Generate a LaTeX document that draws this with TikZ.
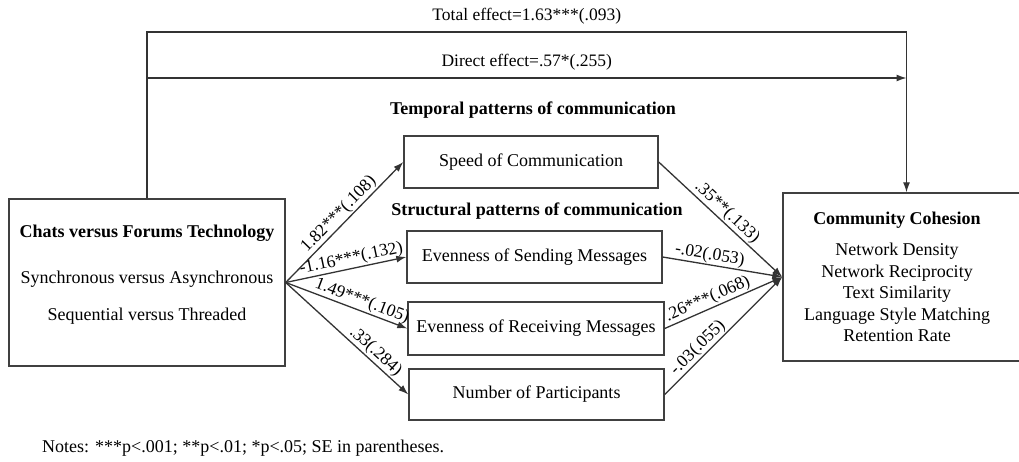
\documentclass[tikz,border=0pt]{standalone}
\usepackage{fontspec}
\setmainfont{Liberation Serif}
\usetikzlibrary{arrows.meta}

\begin{document}
\begin{tikzpicture}[x=1pt,y=-1pt,
        box/.style={draw=black!75,line width=1.4pt,rectangle,inner sep=0pt},
        conn/.style={draw=black!80,line width=1.3pt},
        arr/.style={conn,-{Latex[length=10pt,width=7pt]}},
        lab/.style={font=\fontsize{17.5}{20}\selectfont,sloped,above,inner sep=1pt},
        txt/.style={font=\fontsize{18}{21.5}\selectfont,align=center,inner sep=0pt}]
            \useasboundingbox (0,0) rectangle (1019,461);

            \node[box,minimum width=276pt,minimum height=167pt] (tech) at (147,282.5) {};
            \node[txt] (techtext) at (147,275) {\textbf{Chats versus Forums Technology}\\[24pt]
                Synchronous versus Asynchronous\\[16pt] Sequential versus Threaded};

            \node[box,minimum width=247pt,minimum height=168pt] (cohesion) at (906.5,277) {};
            \node[txt] (cohtext) at (897,277) {\textbf{Community Cohesion}\\[10pt]
                Network Density\\ Network Reciprocity\\ Text Similarity\\
                Language Style Matching\\ Retention Rate};

            \node[txt,font=\fontsize{18}{21.5}\selectfont\bfseries] (temporal) at (533,110) {Temporal patterns of communication};
            \node[txt,font=\fontsize{18}{21.5}\selectfont\bfseries] (structural) at (537,211) {Structural patterns of communication};

            \node[box,txt,minimum width=254pt,minimum height=52pt] (speed) at (531,162) {Speed of Communication};
            \node[box,txt,minimum width=255pt,minimum height=52pt] (sending) at (534.5,257) {Evenness of Sending Messages};
            \node[box,txt,minimum width=256pt,minimum height=53pt] (receiving) at (536,328.5) {Evenness of Receiving Messages};
            \node[box,txt,minimum width=255pt,minimum height=51pt] (number) at (536.5,394.5) {Number of Participants};

            \coordinate (tl) at (147,32);
            \coordinate (tr) at (906.5,32);
            \coordinate (dl) at (147,78);
            \coordinate (dr) at (906.5,78);

            \draw[arr] (tech.north) -- (tl) -- node[lab,above=6pt]{Total effect=1.63***(.093)} (tr) -- (cohesion.north);
            \draw[arr] (dl) -- node[lab,above=6pt]{Direct effect=.57*(.255)} (dr);

            \draw[arr] (tech.east) -- node[lab,pos=0.51]{1.82***(.108)} (speed.west);
            \draw[arr] (tech.east) -- node[lab,pos=0.56]{-1.16***(.132)} (sending.west);
            \draw[arr] (tech.east) -- node[lab,pos=0.6]{1.49***(.105)} (receiving.west);
            \draw[arr] (tech.east) -- node[lab,pos=0.68]{.33(.284)} (number.west);

            \draw[arr] (speed.east) -- node[lab,pos=0.5]{.35**(.133)} (cohesion.west);
            \draw[arr] (sending.east) -- node[lab,pos=0.38]{-.02(.053)} (cohesion.west);
            \draw[arr] (receiving.east) -- node[lab,pos=0.4]{.26***(.068)} (cohesion.west);
            \draw[arr] (number.east) -- node[lab,pos=0.34]{-.03(.055)} (cohesion.west);

            \node[txt,anchor=west,font=\fontsize{18}{20}\selectfont] (notes) at (42,448) {Notes: ***p<.001; **p<.01; *p<.05; SE in parentheses.};
        \end{tikzpicture}
\end{document}
